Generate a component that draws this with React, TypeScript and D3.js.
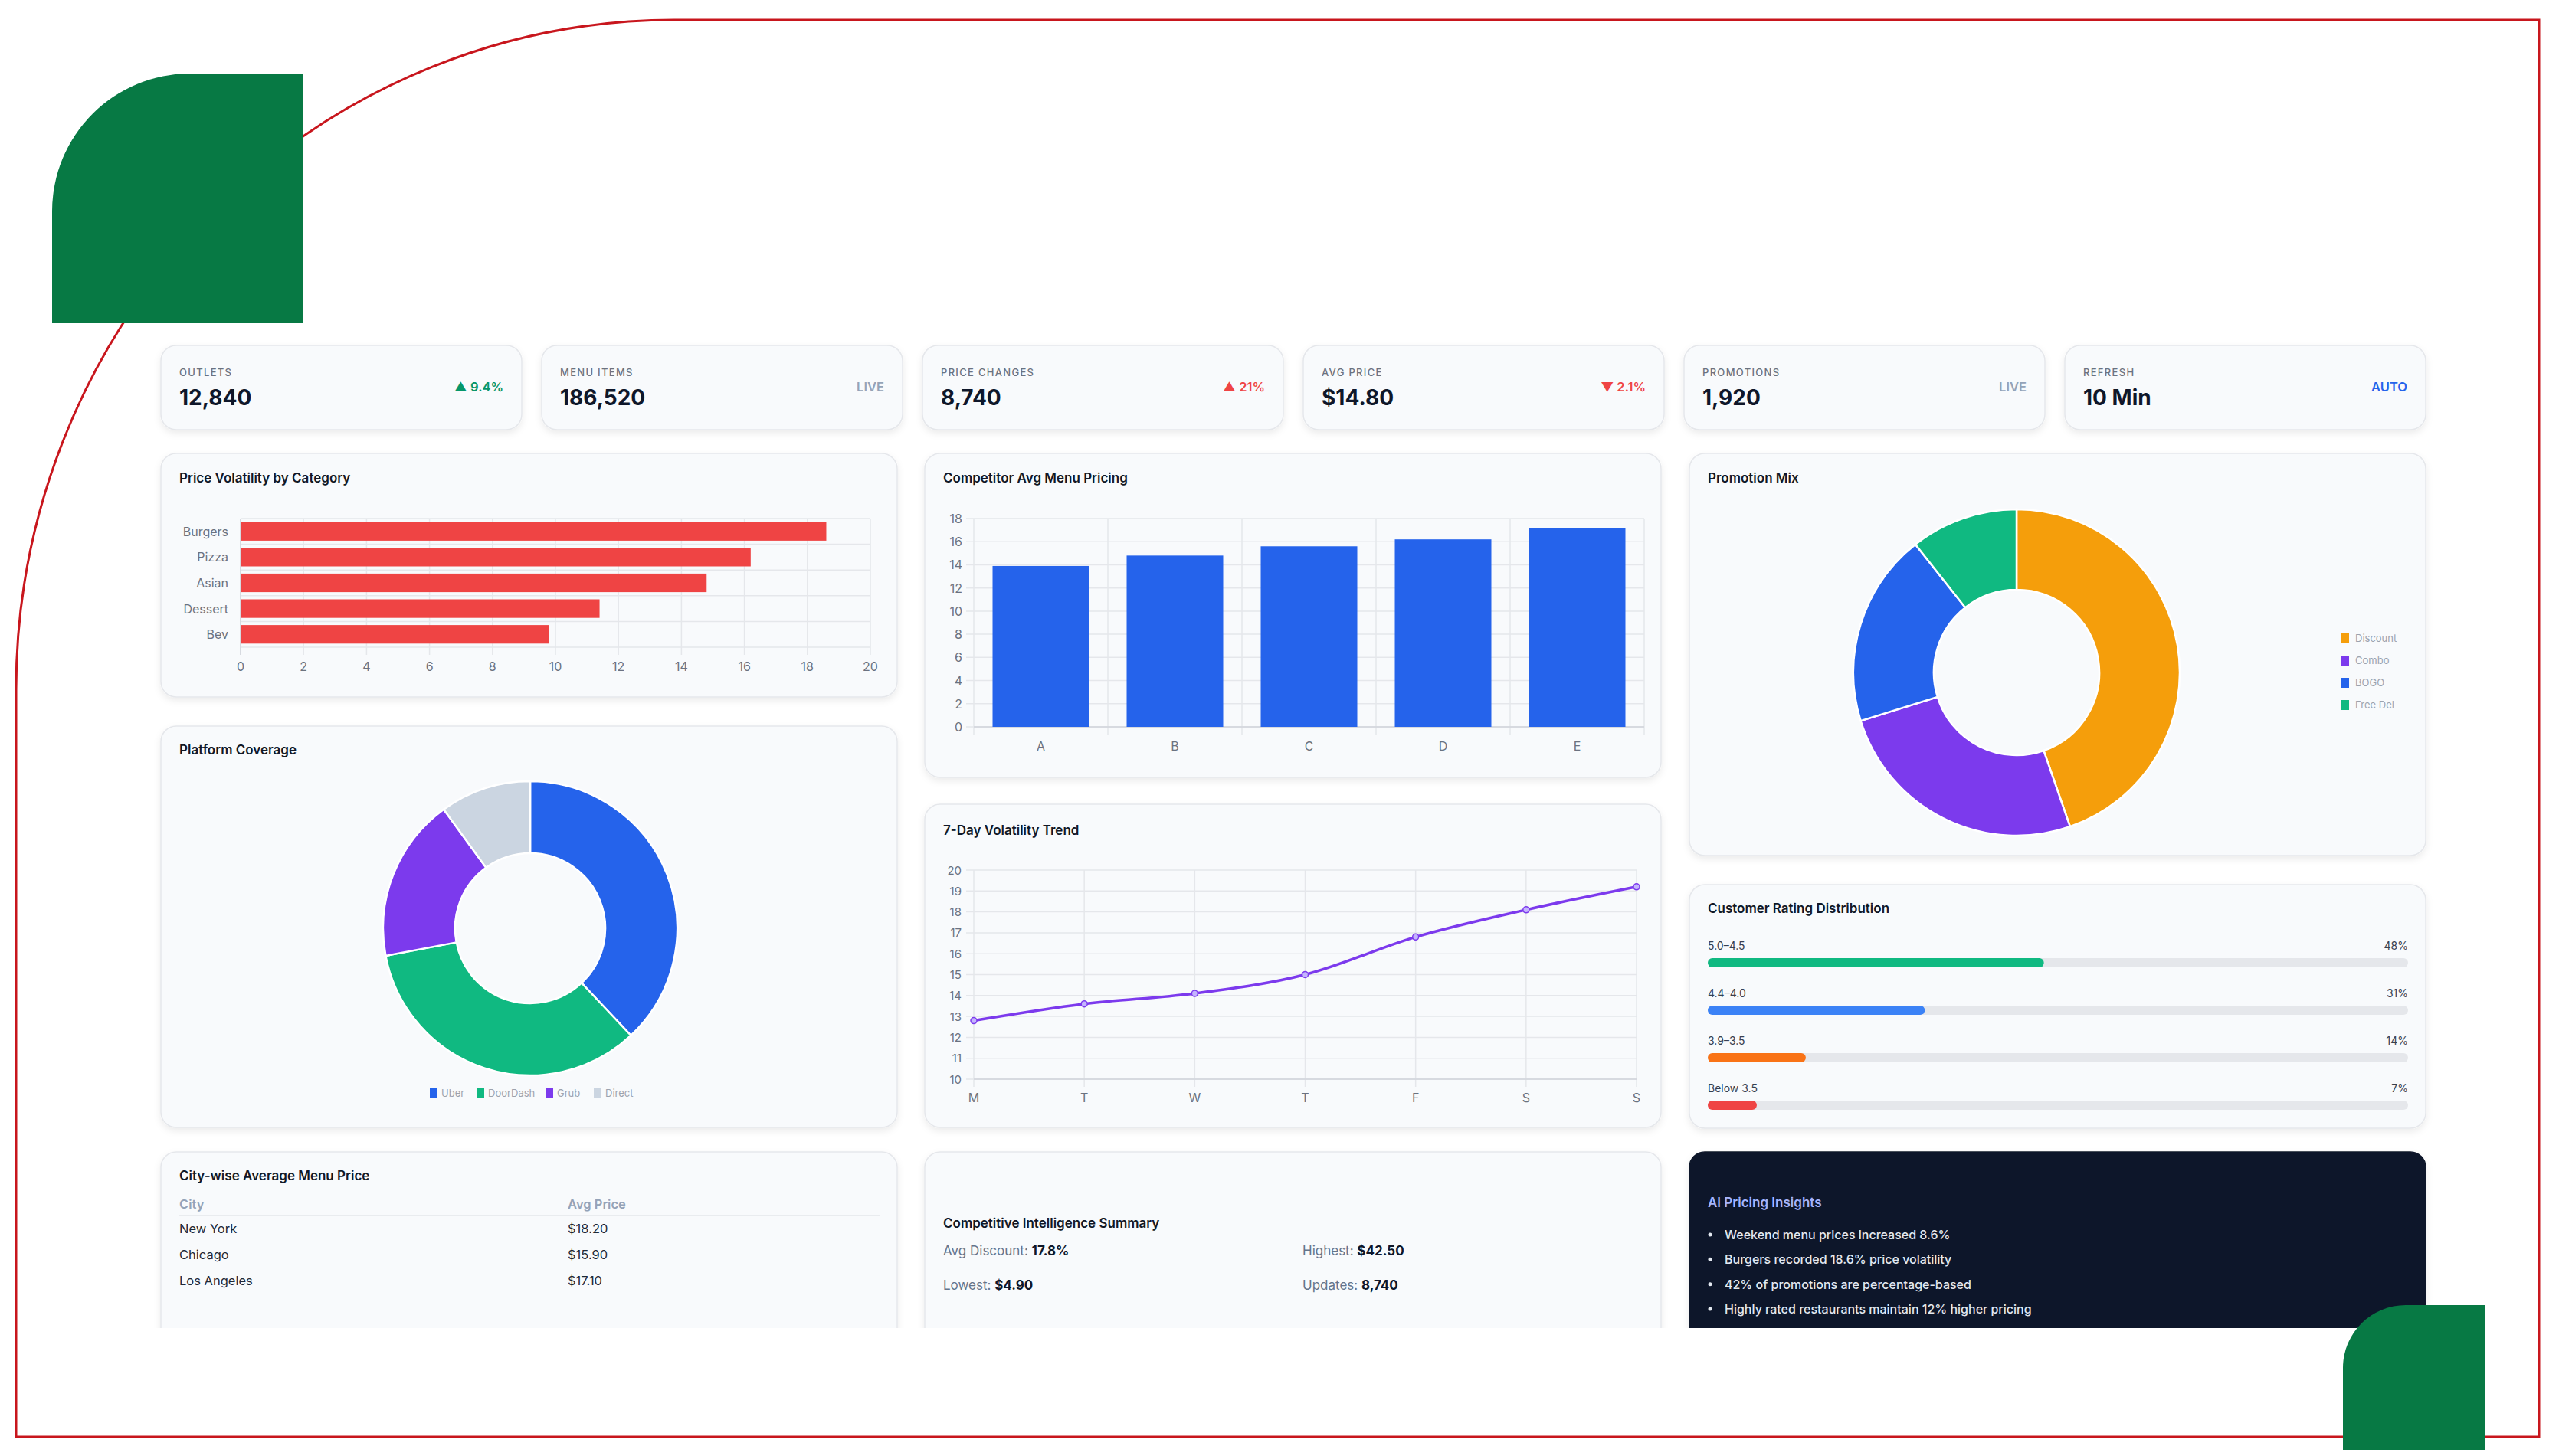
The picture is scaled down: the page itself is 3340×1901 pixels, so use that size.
// Menu pricing dashboard inside a framed slide, drawn with d3 scales and shapes.

import * as d3 from "d3";

const W = 3340;
const H = 1901;

// KPI tiles
const kpiLabels = ["OUTLETS", "MENU ITEMS", "PRICE CHANGES", "AVG PRICE", "PROMOTIONS", "REFRESH"];
const kpiValues = ["12,840", "186,520", "8,740", "$14.80", "1,920", "10 Min"];
const kpiBadges = ["▲ 9.4%", "LIVE", "▲ 21%", "▼ 2.1%", "LIVE", "AUTO"];
const kpiBadgeKinds = ["up", "live", "alert", "alert", "live", "auto"];

// charts
const volatilityCategories = ["Burgers", "Pizza", "Asian", "Dessert", "Bev"];
const volatilityValues = [18.6, 16.2, 14.8, 11.4, 9.8];

const competitorLabels = ["A", "B", "C", "D", "E"];
const competitorPrices = [13.9, 14.8, 15.6, 16.2, 17.2];

const promoLabels = ["Discount", "Combo", "BOGO", "Free Del"];
const promoValues = [42, 24, 18, 10];

const platformLabels = ["Uber", "DoorDash", "Grub", "Direct"];
const platformValues = [38, 34, 18, 10];

const trendDays = ["M", "T", "W", "T", "F", "S", "S"];
const trendValues = [12.8, 13.6, 14.1, 15.0, 16.8, 18.1, 19.2];

const ratingBands = ["5.0–4.5", "4.4–4.0", "3.9–3.5", "Below 3.5"];
const ratingShares = [48, 31, 14, 7];

const cities = ["New York", "Chicago", "Los Angeles"];
const cityPrices = ["$18.20", "$15.90", "$17.10"];

const summaryLabels = ["Avg Discount:", "Highest:", "Lowest:", "Updates:"];
const summaryValues = ["17.8%", "$42.50", "$4.90", "8,740"];

const insights = [
  "Weekend menu prices increased 8.6%",
  "Burgers recorded 18.6% price volatility",
  "42% of promotions are percentage-based",
  "Highly rated restaurants maintain 12% higher pricing",
];

const FONT = "Inter, 'Noto Sans', sans-serif";
const GRID = "#e5e7eb";
const TICK = "#6b7280";
const badgeColor = { up: "#059669", live: "#94a3b8", alert: "#ef4444", auto: "#2563eb" };

const colX = [210, 1207, 2205];
const colW = 961;

function Card({ x, y, w, h, dark = false }) {
  return (
    <rect
      x={x}
      y={y}
      width={w}
      height={h}
      rx={20}
      fill={dark ? "#0f172a" : "#f8fafc"}
      stroke={dark ? "#0f172a" : "#e5e7eb"}
      strokeWidth={1.5}
      filter="url(#shadow)"
    />
  );
}

function Title({ x, y, text, color = "#111827" }) {
  return (
    <text x={x} y={y} dominantBaseline="central" fontSize={17} fontWeight={600} fill={color}>
      {text}
    </text>
  );
}

function Kpis() {
  const x = d3.scaleBand(d3.range(kpiLabels.length), [210, 3166]).paddingInner(26 / 497);
  const y0 = 451;
  return (
    <g>
      {kpiLabels.map((lab, i) => {
        const cx = x(i);
        const w = x.bandwidth();
        return (
          <g key={lab}>
            <Card x={cx} y={y0} w={w} h={110} />
            <text x={cx + 24} y={y0 + 35} dominantBaseline="central" fontSize={13} fontWeight={500} letterSpacing={1.3} fill="#6b7280">
              {lab}
            </text>
            <text x={cx + 24} y={y0 + 68} dominantBaseline="central" fontSize={28} fontWeight={700} fill="#0f172a">
              {kpiValues[i]}
            </text>
            <text x={cx + w - 24} y={y0 + 54} dominantBaseline="central" textAnchor="end" fontSize={16.5} fontWeight={600} fill={badgeColor[kpiBadgeKinds[i]]}>
              {kpiBadges[i]}
            </text>
          </g>
        );
      })}
    </g>
  );
}

function VolatilityChart() {
  const top = 592;
  const x = d3.scaleLinear([0, 20], [314, 1136]);
  const y = d3.scaleBand(volatilityCategories, [677, 845]);
  const bh = y.bandwidth() * 0.72;
  const bounds = volatilityCategories.map((c) => y(c)).concat([845]);
  return (
    <g>
      <Card x={colX[0]} y={top} w={colW} h={318} />
      <Title x={colX[0] + 24} y={top + 32} text="Price Volatility by Category" />
      {x.ticks(10).map((t) => (
        <g key={t}>
          <line x1={x(t)} x2={x(t)} y1={677} y2={855} stroke={GRID} strokeWidth={1.5} />
          <text x={x(t)} y={870} textAnchor="middle" dominantBaseline="central" fontSize={16} fill={TICK}>
            {t}
          </text>
        </g>
      ))}
      {bounds.map((b, i) => (
        <line key={i} x1={314} x2={1136} y1={b} y2={b} stroke={GRID} strokeWidth={1.5} />
      ))}
      <line x1={314} x2={314} y1={677} y2={855} stroke="#d1d5db" strokeWidth={1.5} />
      {volatilityCategories.map((c, i) => (
        <g key={c}>
          <rect x={x(0)} y={y(c) + (y.bandwidth() - bh) / 2} width={x(volatilityValues[i]) - x(0)} height={bh} fill="#ef4444" />
          <text x={298} y={y(c) + y.bandwidth() / 2} textAnchor="end" dominantBaseline="central" fontSize={16} fill={TICK}>
            {c}
          </text>
        </g>
      ))}
    </g>
  );
}

function CompetitorChart() {
  const top = 592;
  const x = d3.scaleBand(competitorLabels, [1271, 2146]);
  const y = d3.scaleLinear([0, 18], [949, 677]);
  const bw = x.bandwidth() * 0.72;
  const bounds = competitorLabels.map((c) => x(c)).concat([2146]);
  return (
    <g>
      <Card x={colX[1]} y={top} w={colW} h={423} />
      <Title x={colX[1] + 24} y={top + 32} text="Competitor Avg Menu Pricing" />
      {y.ticks(9).map((t) => (
        <g key={t}>
          <line x1={1261} x2={2146} y1={y(t)} y2={y(t)} stroke={GRID} strokeWidth={1.5} />
          <text x={1256} y={y(t)} textAnchor="end" dominantBaseline="central" fontSize={16} fill={TICK}>
            {t}
          </text>
        </g>
      ))}
      {bounds.map((b, i) => (
        <line key={i} x1={b} x2={b} y1={677} y2={960} stroke={GRID} strokeWidth={1.5} />
      ))}
      <line x1={1271} x2={2146} y1={949} y2={949} stroke="#d1d5db" strokeWidth={1.5} />
      {competitorLabels.map((c, i) => (
        <g key={c}>
          <rect x={x(c) + (x.bandwidth() - bw) / 2} y={y(competitorPrices[i])} width={bw} height={y(0) - y(competitorPrices[i])} fill="#2563eb" />
          <text x={x(c) + x.bandwidth() / 2} y={974} textAnchor="middle" dominantBaseline="central" fontSize={16} fill={TICK}>
            {c}
          </text>
        </g>
      ))}
    </g>
  );
}

function Donut({ cx, cy, r, r0, values, colors }) {
  const pie = d3.pie().sort(null).value((d) => d);
  const arc = d3.arc().innerRadius(r0).outerRadius(r);
  return (
    <g transform={`translate(${cx},${cy})`}>
      {pie(values).map((a, i) => (
        <path key={i} d={arc(a)} fill={colors[i]} stroke="#ffffff" strokeWidth={2.5} />
      ))}
    </g>
  );
}

function PromotionChart() {
  const top = 592;
  const colors = ["#f59e0b", "#7c3aed", "#2563eb", "#10b981"];
  const ly = d3.scalePoint(promoLabels, [833, 920]);
  return (
    <g>
      <Card x={colX[2]} y={top} w={colW} h={525} />
      <Title x={colX[2] + 24} y={top + 32} text="Promotion Mix" />
      <Donut cx={2632} cy={878} r={213} r0={108} values={promoValues} colors={colors} />
      {promoLabels.map((l, i) => (
        <g key={l}>
          <rect x={3055} y={ly(l) - 6} width={11} height={13} fill={colors[i]} />
          <text x={3074} y={ly(l)} dominantBaseline="central" fontSize={13} fill="#9ca3af">
            {l}
          </text>
        </g>
      ))}
    </g>
  );
}

function PlatformChart() {
  const top = 948;
  const colors = ["#2563eb", "#10b981", "#7c3aed", "#cbd5e1"];
  const lx = [561, 622, 712, 775];
  return (
    <g>
      <Card x={colX[0]} y={top} w={colW} h={524} />
      <Title x={colX[0] + 24} y={top + 31} text="Platform Coverage" />
      <Donut cx={692} cy={1212} r={192} r0={98} values={platformValues} colors={colors} />
      {platformLabels.map((l, i) => (
        <g key={l}>
          <rect x={lx[i]} y={1421} width={10} height={13} fill={colors[i]} />
          <text x={lx[i] + 15} y={1427} dominantBaseline="central" fontSize={13} fill="#9ca3af">
            {l}
          </text>
        </g>
      ))}
    </g>
  );
}

function TrendChart() {
  const top = 1050;
  const idx = d3.range(trendDays.length);
  const x = d3.scalePoint(idx, [1271, 2136]);
  const y = d3.scaleLinear([10, 20], [1409, 1136]);
  const line = d3
    .line()
    .x((d, i) => x(i))
    .y((d) => y(d))
    .curve(d3.curveMonotoneX);
  return (
    <g>
      <Card x={colX[1]} y={top} w={colW} h={422} />
      <Title x={colX[1] + 24} y={top + 34} text="7-Day Volatility Trend" />
      {y.ticks(10).map((t) => (
        <g key={t}>
          <line x1={1261} x2={2136} y1={y(t)} y2={y(t)} stroke={GRID} strokeWidth={1.5} />
          <text x={1255} y={y(t)} textAnchor="end" dominantBaseline="central" fontSize={15} fill={TICK}>
            {t}
          </text>
        </g>
      ))}
      {idx.map((i) => (
        <g key={i}>
          <line x1={x(i)} x2={x(i)} y1={1136} y2={1419} stroke={GRID} strokeWidth={1.5} />
          <text x={x(i)} y={1433} textAnchor="middle" dominantBaseline="central" fontSize={16} fill={TICK}>
            {trendDays[i]}
          </text>
        </g>
      ))}
      <line x1={1271} x2={2136} y1={1409} y2={1409} stroke="#d1d5db" strokeWidth={1.5} />
      <path d={line(trendValues)} fill="none" stroke="#7c3aed" strokeWidth={3.5} />
      {trendValues.map((v, i) => (
        <circle key={i} cx={x(i)} cy={y(v)} r={4} fill="#c4b5fd" stroke="#7c3aed" strokeWidth={1.5} />
      ))}
    </g>
  );
}

function RatingChart() {
  const top = 1155;
  const colors = ["#10b981", "#3b82f6", "#f97316", "#ef4444"];
  const rowY = d3.scalePoint(ratingBands, [1234, 1420]);
  const w = d3.scaleLinear([0, 100], [0, 914]);
  return (
    <g>
      <Card x={colX[2]} y={top} w={colW} h={318} />
      <Title x={colX[2] + 24} y={top + 31} text="Customer Rating Distribution" />
      {ratingBands.map((b, i) => (
        <g key={b}>
          <text x={2229} y={rowY(b)} dominantBaseline="central" fontSize={14} fill="#374151">
            {b}
          </text>
          <text x={3143} y={rowY(b)} textAnchor="end" dominantBaseline="central" fontSize={14} fill="#374151">
            {ratingShares[i]}%
          </text>
          <rect x={2229} y={rowY(b) + 17} width={w(100)} height={12} rx={6} fill={GRID} />
          <rect x={2229} y={rowY(b) + 17} width={w(ratingShares[i])} height={12} rx={6} fill={colors[i]} />
        </g>
      ))}
    </g>
  );
}

function CityTable() {
  const top = 1504;
  const rowY = d3.scalePoint(cities, [1604, 1672]);
  return (
    <g>
      <Card x={colX[0]} y={top} w={colW} h={320} />
      <Title x={colX[0] + 24} y={1535} text="City-wise Average Menu Price" />
      <text x={234} y={1572} dominantBaseline="central" fontSize={16.5} fontWeight={600} fill="#94a3b8">
        City
      </text>
      <text x={741} y={1572} dominantBaseline="central" fontSize={16.5} fontWeight={600} fill="#94a3b8">
        Avg Price
      </text>
      <line x1={234} x2={1148} y1={1587} y2={1587} stroke={GRID} strokeWidth={1.5} />
      {cities.map((c, i) => (
        <g key={c}>
          <text x={234} y={rowY(c)} dominantBaseline="central" fontSize={16.5} fill="#1f2937">
            {c}
          </text>
          <text x={741} y={rowY(c)} dominantBaseline="central" fontSize={16.5} fill="#1f2937">
            {cityPrices[i]}
          </text>
        </g>
      ))}
    </g>
  );
}

function Summary() {
  const top = 1504;
  const cx = d3.scalePoint([0, 1], [1231, 1700]);
  const ry = d3.scalePoint([0, 1], [1633, 1678]);
  return (
    <g>
      <Card x={colX[1]} y={top} w={colW} h={320} />
      <Title x={colX[1] + 24} y={1597} text="Competitive Intelligence Summary" />
      {summaryLabels.map((l, i) => (
        <text key={l} x={cx(i % 2)} y={ry(Math.floor(i / 2))} dominantBaseline="central" fontSize={17} fill="#64748b">
          {l}{" "}
          <tspan fontWeight={700} fill="#0f172a">
            {summaryValues[i]}
          </tspan>
        </text>
      ))}
    </g>
  );
}

function Insights() {
  const top = 1504;
  const ry = d3.scalePoint(d3.range(insights.length), [1612, 1709]);
  return (
    <g>
      <Card x={colX[2]} y={top} w={colW} h={320} dark />
      <Title x={colX[2] + 24} y={1570} text="AI Pricing Insights" color="#a5b4fc" />
      {insights.map((t, i) => (
        <g key={i}>
          <circle cx={2232} cy={ry(i)} r={2.5} fill="#e2e8f0" />
          <text x={2251} y={ry(i)} dominantBaseline="central" fontSize={16} fontWeight={500} fill="#e2e8f0">
            {t}
          </text>
        </g>
      ))}
    </g>
  );
}

export default function App() {
  return (
    <svg
      width={W}
      height={H}
      style={{ position: "absolute", left: 0, top: 0, display: "block" }}
      fontFamily={FONT}
    >
      <defs>
        <filter id="shadow" x="-5%" y="-10%" width="110%" height="130%">
          <feDropShadow dx="0" dy="4" stdDeviation="5" floodColor="#0f172a" floodOpacity="0.08" />
        </filter>
        <clipPath id="dashClip">
          <rect x={0} y={0} width={W} height={1734} />
        </clipPath>
      </defs>
      <rect width={W} height={H} fill="#ffffff" />
      <path d="M21,1876 L21,900 A859,874 0 0 1 880,26 L3314,26 L3314,1876 Z" fill="none" stroke="#c8161d" strokeWidth={3} />
      <g clipPath="url(#dashClip)">
        <Kpis />
        <VolatilityChart />
        <CompetitorChart />
        <PromotionChart />
        <PlatformChart />
        <TrendChart />
        <RatingChart />
        <CityTable />
        <Summary />
        <Insights />
      </g>
      <path d="M68,422 L68,276 A180,180 0 0 1 248,96 L395,96 L395,422 Z" fill="#077944" />
      <path d="M3058,1893 L3058,1786 A82,82 0 0 1 3140,1704 L3244,1704 L3244,1893 Z" fill="#077944" />
    </svg>
  );
}
